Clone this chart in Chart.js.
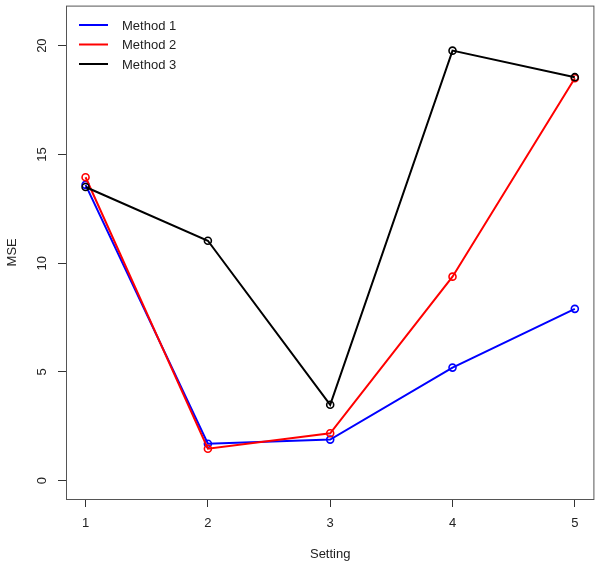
<!DOCTYPE html>
<html>
<head>
<meta charset="utf-8">
<script src="https://cdn.jsdelivr.net/npm/chart.js@4"></script>
<style>
  html, body { margin: 0; padding: 0; background: #fff; }
  #wrap { width: 600px; height: 566px; }
</style>
</head>
<body>
<div id="wrap"><canvas id="mseChart" width="600" height="566"></canvas></div>
<script>
const settings = [1, 2, 3, 4, 5];
const method1 = [13.6, 1.70, 1.89, 5.2, 7.9];
const method2 = [13.95, 1.47, 2.18, 9.38, 18.5];
const method3 = [13.5, 11.03, 3.49, 19.77, 18.55];
const seriesNames = ['Method 1', 'Method 2', 'Method 3'];
const seriesColors = ['#0000ff', '#ff0000', '#000000'];
const xTicks = [1, 2, 3, 4, 5];
const yTicks = [0, 5, 10, 15, 20];

(function () {
  const canvas = document.getElementById('mseChart');
  const ctx = canvas.getContext('2d');
  const FONT = '"Liberation Sans", Arial, sans-serif';
  const INK = '#333';

  const toPoints = (vals) => settings.map((s, i) => ({ x: s, y: vals[i] }));

  const series = [method1, method2, method3].map((vals, i) => ({
    label: seriesNames[i],
    data: toPoints(vals),
    borderColor: seriesColors[i],
    backgroundColor: 'rgba(0,0,0,0)',
    pointBackgroundColor: 'rgba(0,0,0,0)',
    pointBorderColor: seriesColors[i],
    pointRadius: 3.5,
    pointBorderWidth: 1.6,
    borderWidth: 2,
    tension: 0,
    fill: false,
    order: 2 - i
  }));

  // caja, etiquetas del eje y giradas y leyenda al estilo R
  const rStyle = {
    id: 'rStyle',
    afterDraw(chart) {
      const c = chart.ctx;
      const a = chart.chartArea;
      c.save();
      c.strokeStyle = '#555';
      c.lineWidth = 1;
      c.strokeRect(a.left + 0.5, a.top + 0.5, a.right - a.left - 1, a.bottom - a.top);

      const ys = chart.scales.y;
      c.fillStyle = '#222';
      c.font = '13px ' + FONT;
      c.textAlign = 'center';
      c.textBaseline = 'middle';
      yTicks.forEach(v => {
        const py = ys.getPixelForValue(v);
        c.save();
        c.translate(42, py);
        c.rotate(-Math.PI / 2);
        c.fillText(String(v), 0, 0);
        c.restore();
      });

      c.textAlign = 'left';
      seriesNames.forEach((name, i) => {
        const ly = 25 + i * 19.5;
        c.strokeStyle = seriesColors[i];
        c.lineWidth = 2;
        c.beginPath();
        c.moveTo(79, ly);
        c.lineTo(108, ly);
        c.stroke();
        c.fillStyle = '#222';
        c.fillText(name, 122, ly + 1);
      });
      c.restore();
    }
  };

  new Chart(ctx, {
    type: 'line',
    data: { datasets: series },
    plugins: [rStyle],
    options: {
      responsive: false,
      animation: false,
      layout: { padding: { top: 5, right: 5, left: 0, bottom: 0 } },
      plugins: {
        legend: { display: false },
        tooltip: { enabled: false }
      },
      scales: {
        x: {
          type: 'linear',
          min: 0.84,
          max: 5.16,
          afterBuildTicks: (s) => { s.ticks = xTicks.map(v => ({ value: v })); },
          afterFit: (s) => { s.height = 67; },
          grid: { drawOnChartArea: false, tickLength: 8, color: INK, tickColor: INK },
          border: { display: false },
          ticks: { color: '#222', font: { family: FONT, size: 13 }, padding: 9, maxRotation: 0 },
          title: { display: true, text: 'Setting', color: '#222', font: { family: FONT, size: 13 }, padding: { top: 12 } }
        },
        y: {
          min: -0.84,
          max: 21.84,
          afterBuildTicks: (s) => { s.ticks = yTicks.map(v => ({ value: v })); },
          afterFit: (s) => { s.width = 66; },
          grid: { drawOnChartArea: false, tickLength: 8, color: INK, tickColor: INK },
          border: { display: false },
          ticks: { color: 'rgba(0,0,0,0)', font: { family: FONT, size: 2 } },
          title: { display: true, text: 'MSE', color: '#222', font: { family: FONT, size: 13 }, padding: { top: 5, bottom: 0 } }
        }
      }
    }
  });
})();
</script>
</body>
</html>
